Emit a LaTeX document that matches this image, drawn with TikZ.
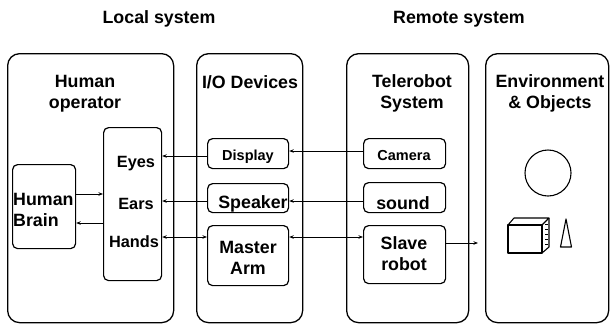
\documentclass[tikz,border=0pt]{standalone}
\usepackage{fontspec}
\setmainfont{Liberation Sans}
\usetikzlibrary{arrows.meta}
\begin{document}
\begin{tikzpicture}[x=1pt,y=-1pt,
  bigbox/.style={draw,line width=1.3pt,rounded corners=12pt,anchor=north west,inner sep=0pt},
  smallbox/.style={draw,line width=1.2pt,rounded corners=5pt,anchor=north west,inner sep=0pt},
  lbl/.style={font=\fontsize{17.8}{21}\selectfont\bfseries,inner sep=0pt,align=center},
  slbl/.style={font=\fontsize{14.5}{18}\selectfont\bfseries,inner sep=0pt},
  mlbl/.style={font=\fontsize{16.3}{20}\selectfont\bfseries,inner sep=0pt},
  conn/.style={line width=1pt,-{Stealth[length=4.5pt,width=3.5pt]}},
  biconn/.style={line width=1pt,{Stealth[length=4.5pt,width=3.5pt]}-{Stealth[length=4.5pt,width=3.5pt]}}]
\useasboundingbox (0,0) rectangle (610,325);
% top labels
\node[lbl,anchor=base] (local) at (159,23) {Local system};
\node[lbl,anchor=base] (remote) at (459,23) {Remote system};
% big boxes
\node[bigbox,minimum width=166pt,minimum height=269pt] (ho) at (7,53) {};
\node[bigbox,minimum width=106pt,minimum height=269pt] (io) at (196,53) {};
\node[bigbox,minimum width=122pt,minimum height=269pt] (tr) at (346,53) {};
\node[bigbox,minimum width=123pt,minimum height=269pt] (env) at (485,53) {};
% titles
\node[lbl] (hotitle) at (85,94.1) {Human\\operator};
\node[lbl,anchor=base] (iotitle) at (250,88) {I/O Devices};
\node[lbl] (trtitle) at (412,93.6) {Telerobot\\System};
\node[lbl] (envtitle) at (550,93.6) {Environment\\\& Objects};
% inner boxes
\node[smallbox,minimum width=63pt,minimum height=84pt] (brain) at (12,164) {};
\node[smallbox,minimum width=58pt,minimum height=153pt] (senses) at (103,127) {};
\node[smallbox,minimum width=81pt,minimum height=30pt] (display) at (207,138) {};
\node[smallbox,minimum width=81pt,minimum height=29pt] (speaker) at (207,183) {};
\node[smallbox,minimum width=81pt,minimum height=60pt] (master) at (207,225) {};
\node[smallbox,minimum width=82pt,minimum height=30pt] (camera) at (363,138) {};
\node[smallbox,minimum width=82pt,minimum height=30pt] (sound) at (363,182) {};
\node[smallbox,minimum width=82pt,minimum height=58pt] (slave) at (363,225) {};
% texts in boxes
\node[lbl,align=left,anchor=west] (braintxt) at (13,210.2) {Human\\Brain};
\node[mlbl,anchor=base] (eyes) at (136,167) {Eyes};
\node[mlbl,anchor=base] (ears) at (136,209) {Ears};
\node[mlbl,anchor=base] (hands) at (134,247) {Hands};
\node[slbl,anchor=base] (displaytxt) at (248,160) {Display};
\node[lbl,anchor=base] (speakertxt) at (253,208) {Speaker};
\node[lbl] (mastertxt) at (248,257.7) {Master\\Arm};
\node[slbl,anchor=base] (cameratxt) at (404,160) {Camera};
\node[lbl,anchor=base] (soundtxt) at (403,209) {sound};
\node[lbl] (slavetxt) at (404,253.7) {Slave\\robot};
% connectors
\draw[conn] (brain.east |- 0,194) -- (senses.west |- 0,194);
\draw[conn] (senses.west |- 0,223) -- (brain.east |- 0,223);
\draw[conn] (display.west |- 0,156) -- (senses.east |- 0,156);
\draw[conn] (camera.west |- 0,151) -- (display.east |- 0,151);
\draw[conn] (speaker.west |- 0,201) -- (senses.east |- 0,201);
\draw[conn] (sound.west |- 0,201) -- (speaker.east |- 0,201);
\draw[biconn] (senses.east |- 0,237) -- (master.west |- 0,237);
\draw[biconn] (master.east |- 0,237) -- (slave.west |- 0,237);
\coordinate (envin) at (478,243);
\draw[conn] (slave.east |- envin) -- (envin);
% objects
\draw[line width=1.1pt] (548,173) circle (23);
\draw[line width=1.1pt,line join=round] (508,225) rectangle (542,253);
\draw[line width=1.1pt,line join=round] (508,225) -- (514,218) -- (549,218) -- (542,225);
\draw[line width=1.1pt,line join=round] (549,218) -- (549,247) -- (542,253);
\foreach \yy in {224,229,234,239,244} \draw[line width=0.7pt] (545,\yy) -- (548,\yy);
\draw[line width=1.1pt,line join=round] (566,219) -- (560.5,247) -- (571.5,247) -- cycle;
\end{tikzpicture}
\end{document}
